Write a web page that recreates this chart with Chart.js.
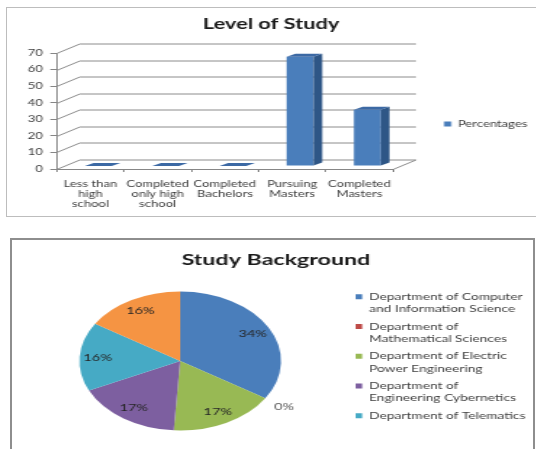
<!DOCTYPE html>
<html>
<head>
<meta charset="utf-8">
<script src="https://cdn.jsdelivr.net/npm/chart.js@4.4.1/dist/chart.umd.min.js"></script>
<style>
  html, body { margin: 0; padding: 0; background: #fff; overflow: hidden; }
  body { width: 536px; height: 449px; position: relative; }
  .box { position: absolute; box-sizing: content-box; background: #fff; }
  #levelBox { left: 6px; top: 7px; width: 560px; height: 208px; border: 1px solid #bdbdbd; }
  #deptBox { left: 10px; top: 238px; width: 521px; height: 215px; border: 2px solid #8e8e8e; }
  /* the source image is stretched sideways, so the charts are too */
  .stretch { position: absolute; left: 0; top: 0; transform: scaleX(1.45); transform-origin: 0 0; }
</style>
</head>
<body>
<div class="box" id="levelBox">
  <div class="stretch" style="width:372px;height:208px"><canvas id="level-chart"></canvas></div>
</div>
<div class="box" id="deptBox">
  <div class="stretch" style="width:365px;height:211px"><canvas id="dept-chart"></canvas></div>
</div>
<script>
// level of study (bar chart)
const levelLabels = [
  ['Less than', 'high', 'school'],
  ['Completed', 'only high', 'school'],
  ['Completed', 'Bachelors'],
  ['Pursuing', 'Masters'],
  ['Completed', 'Masters']
];
const levelValues = [0, 0, 0, 66, 34];
const levelTicks = [0, 10, 20, 30, 40, 50, 60, 70];

// study background (pie chart), last slice has no legend entry in the source
const deptLabels = [
  ['Department of Computer', 'and Information Science'],
  ['Department of', 'Mathematical Sciences'],
  ['Department of Electric', 'Power Engineering'],
  ['Department of', 'Engineering Cybernetics'],
  'Department of Telematics',
  'Other'
];
const deptValues = [34, 0, 17, 17, 16, 16];
const deptColors = ['#4A7EBB', '#BE4B48', '#98B954', '#7D5FA0', '#46AAC5', '#F59443'];

Chart.defaults.font.family = "Lato, 'Open Sans', sans-serif";
Chart.defaults.color = '#404040';
Chart.defaults.animation = false;

// back wall, floor and bar depth, drawn around the flat chart
const fake3d = {
  id: 'fake3d',
  beforeDatasetsDraw(chart, args, o) {
    const {ctx, chartArea: a, scales: {y}} = chart;
    ctx.save();
    ctx.strokeStyle = o.lineColor;
    ctx.lineWidth = 1;
    y.ticks.forEach(t => {
      const py = Math.round(y.getPixelForValue(t.value)) + 0.5;
      ctx.beginPath();
      ctx.moveTo(a.left, py);
      ctx.lineTo(a.left + o.wallX, py - o.wallY);
      ctx.lineTo(a.right + o.wallX, py - o.wallY);
      ctx.stroke();
    });
    const fy = Math.round(a.bottom) + 0.5;
    ctx.beginPath();
    ctx.moveTo(a.right, fy);
    ctx.lineTo(a.right + o.wallX, fy - o.wallY);
    ctx.stroke();
    ctx.restore();
    ctx.save();
    ctx.translate(o.barX, -o.barY);
  },
  afterDatasetsDraw(chart, args, o) {
    const {ctx} = chart;
    chart.getDatasetMeta(0).data.forEach(bar => {
      const {x, y, base, width} = bar.getProps(['x', 'y', 'base', 'width'], true);
      const l = x - width / 2, r = x + width / 2;
      ctx.fillStyle = o.sideColor;
      ctx.beginPath();
      ctx.moveTo(r, y);
      ctx.lineTo(r + o.depthX, y - o.depthY);
      ctx.lineTo(r + o.depthX, base - o.depthY);
      ctx.lineTo(r, base);
      ctx.closePath();
      ctx.fill();
      ctx.fillStyle = o.topColor;
      ctx.beginPath();
      ctx.moveTo(l, y);
      ctx.lineTo(l + o.depthX, y - o.depthY);
      ctx.lineTo(r + o.depthX, y - o.depthY);
      ctx.lineTo(r, y);
      ctx.closePath();
      ctx.fill();
    });
    ctx.restore();
  }
};

// percentage labels on the slices
const sliceLabels = {
  id: 'sliceLabels',
  afterDatasetsDraw(chart) {
    const {ctx} = chart;
    ctx.save();
    ctx.textAlign = 'center';
    ctx.textBaseline = 'middle';
    ctx.font = "10px Lato, 'Open Sans', sans-serif";
    chart.getDatasetMeta(0).data.forEach((arc, i) => {
      const v = deptValues[i];
      const {x, y, startAngle, endAngle, outerRadius} =
        arc.getProps(['x', 'y', 'startAngle', 'endAngle', 'outerRadius'], true);
      const mid = (startAngle + endAngle) / 2;
      const f = v > 0 ? 0.82 : 1.22;
      ctx.fillStyle = v > 0 ? '#262626' : '#595959';
      ctx.fillText(v + '%', x + Math.cos(mid) * outerRadius * f, y + Math.sin(mid) * outerRadius * f);
    });
    ctx.restore();
  }
};

new Chart(document.getElementById('level-chart'), {
  type: 'bar',
  data: {
    labels: levelLabels,
    datasets: [{
      label: 'Percentages',
      data: levelValues,
      backgroundColor: '#4A7EBB',
      borderWidth: 0,
      barPercentage: 0.4,
      categoryPercentage: 1,
      clip: false
    }]
  },
  options: {
    responsive: true,
    maintainAspectRatio: false,
    layout: { padding: { left: 0, right: 7.8, top: 0, bottom: 0 } },
    scales: {
      x: {
        afterFit: s => { s.height = 47; },
        grid: { drawOnChartArea: false, tickLength: 3, color: '#868686' },
        border: { color: '#868686' },
        ticks: { maxRotation: 0, autoSkip: false, padding: 7, font: { size: 9, lineHeight: 1.12 } }
      },
      y: {
        min: 0,
        max: 70,
        afterFit: s => { s.width = 34.3; },
        afterBuildTicks: s => { s.ticks = levelTicks.map(v => ({ value: v })); },
        grid: { drawOnChartArea: false, tickLength: 4.5, color: '#868686' },
        border: { color: '#868686' },
        ticks: { padding: 5, font: { size: 9 } }
      }
    },
    plugins: {
      title: {
        display: true,
        text: 'Level of Study',
        color: '#1a1a1a',
        font: { size: 15, weight: 'bold' },
        padding: { top: 7, bottom: 20 }
      },
      legend: {
        position: 'right',
        fullSize: false,
        maxWidth: 98,
        title: { display: true, text: '', padding: 9.4, font: { size: 6 } },
        labels: { boxWidth: 5, boxHeight: 5, padding: 35.2, font: { size: 9 } }
      },
      tooltip: { enabled: false },
      fake3d: {
        lineColor: '#8c8c8c',
        wallX: 15.9, wallY: 9.5,
        barX: 5.5, barY: 3,
        depthX: 6, depthY: 3,
        sideColor: '#2E5686',
        topColor: '#3C69A4'
      }
    }
  },
  plugins: [fake3d]
});

new Chart(document.getElementById('dept-chart'), {
  type: 'pie',
  data: {
    labels: deptLabels,
    datasets: [{
      data: deptValues,
      backgroundColor: deptColors,
      borderWidth: 0
    }]
  },
  options: {
    responsive: true,
    maintainAspectRatio: false,
    layout: { padding: { left: 0, right: 1, top: 0, bottom: 20.5 } },
    plugins: {
      title: {
        display: true,
        text: 'Study Background',
        color: '#1a1a1a',
        font: { size: 16, weight: 'bold' },
        padding: { top: 10.4, bottom: 21.9 }
      },
      legend: {
        position: 'right',
        title: { display: true, text: '', padding: 17.4, font: { size: 6 } },
        labels: {
          boxWidth: 4.5, boxHeight: 5, padding: 5,
          font: { size: 9.5, lineHeight: 1.3 },
          filter: item => item.index < 5
        }
      },
      tooltip: { enabled: false }
    }
  },
  plugins: [sliceLabels]
});
</script>
</body>
</html>
